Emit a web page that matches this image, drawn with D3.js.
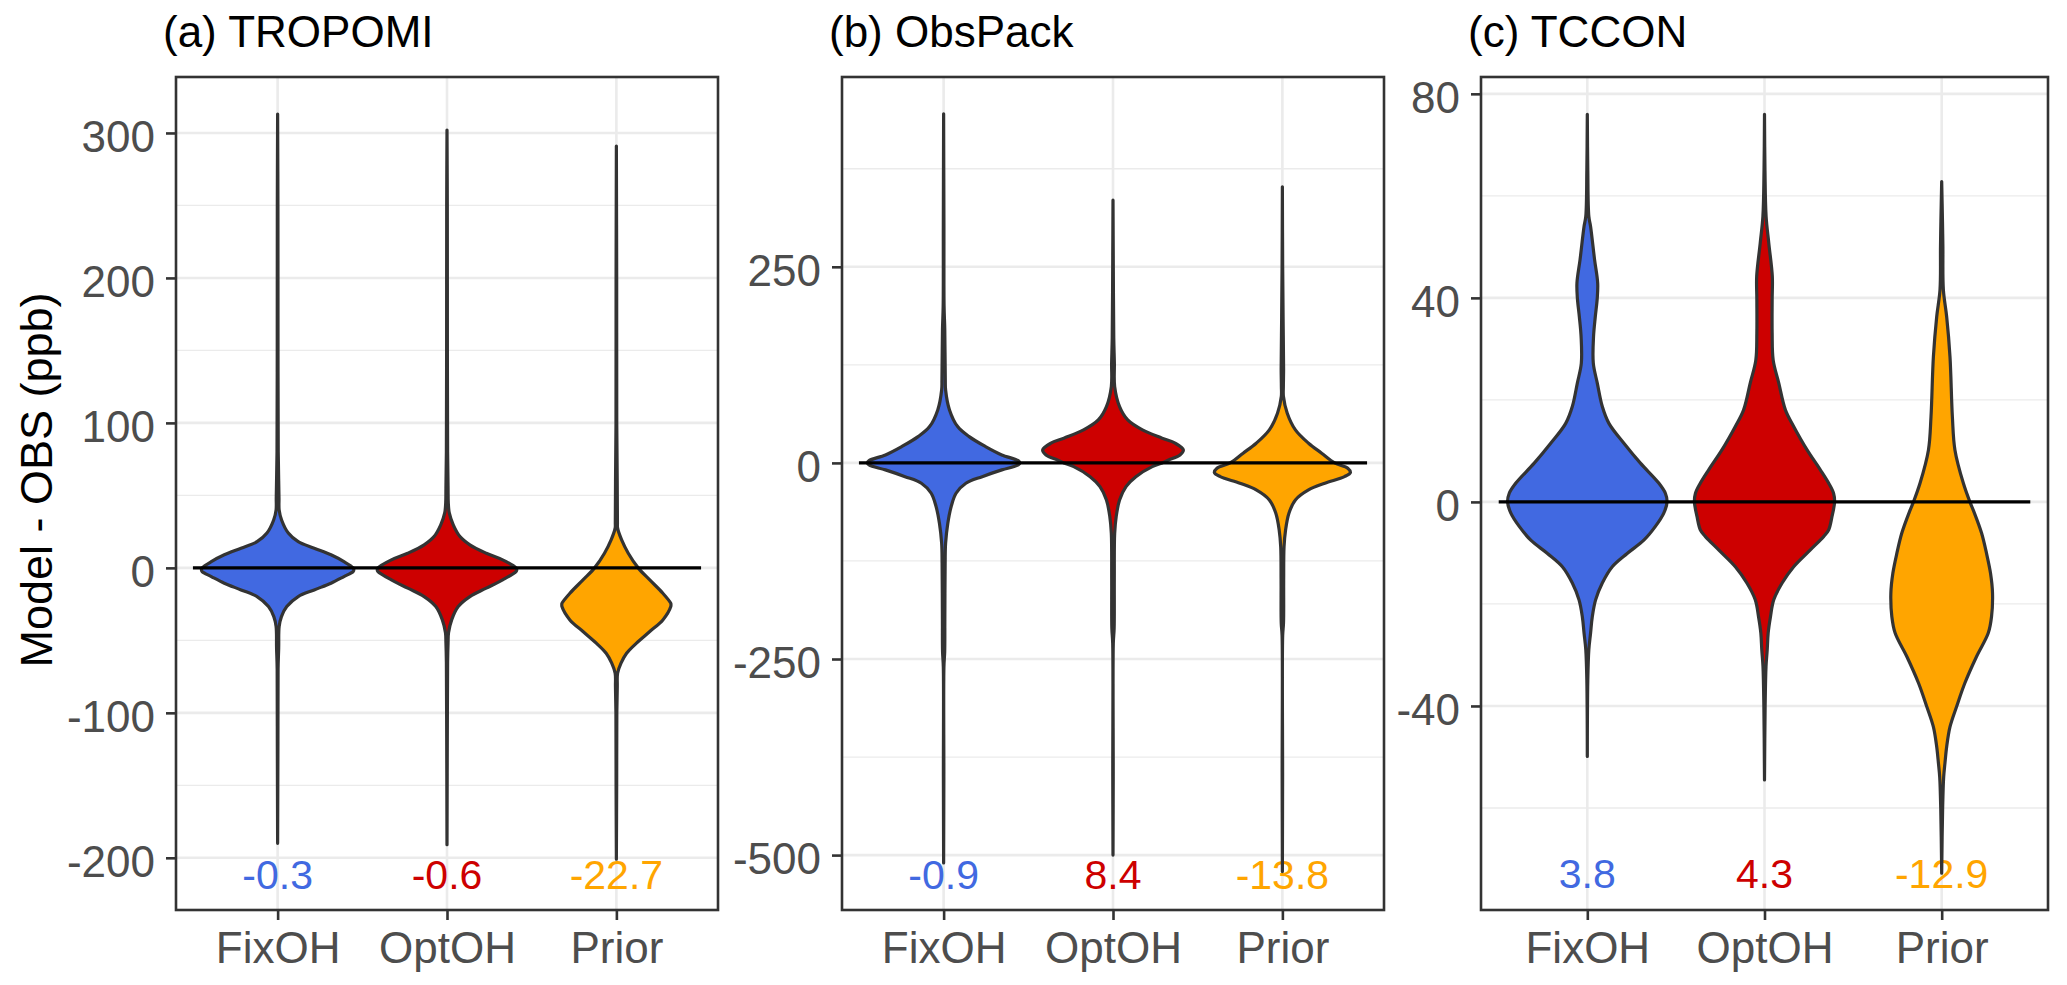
<!DOCTYPE html>
<html>
<head>
<meta charset="utf-8">
<script src="https://cdn.jsdelivr.net/npm/d3@7"></script>
<style>
  body { margin: 0; background: #fff; }
  svg { display: block; }
  text { font-family: "Liberation Sans", Arial, sans-serif; }
</style>
</head>
<body>
<div id="chart"></div>
<script>
// categories and colours
var categories = ["FixOH", "OptOH", "Prior"];
var fills = ["#4169E1", "#CD0000", "#FFA500"];
var panelTitles = ["(a) TROPOMI", "(b) ObsPack", "(c) TCCON"];

// mean bias labels
var tropomiMeans = ["-0.3", "-0.6", "-22.7"];
var obspackMeans = ["-0.9", "8.4", "-13.8"];
var tcconMeans = ["3.8", "4.3", "-12.9"];

// y ticks
var tropomiTicks = [-200, -100, 0, 100, 200, 300];
var tropomiMinor = [-150, -50, 50, 150, 250];
var obspackTicks = [-500, -250, 0, 250];
var obspackMinor = [-375, -125, 125, 375];
var tcconTicks = [-40, 0, 40, 80];
var tcconMinor = [-60, -20, 20, 60];

// violin profiles: [value (ppb), relative density]
var tropomiFixOH = [[313,0],[250,0.004],[150,0.005],[80,0.008],[60,0.014],[48,0.018],[40,0.02],[33,0.052],[24,0.14],[18.1,0.27],[13.6,0.48],[9,0.70],[4.3,0.87],[0,0.99],[-1.3,1.0],[-2.6,0.99],[-6,0.87],[-10.6,0.70],[-15.2,0.48],[-19.8,0.27],[-26.7,0.12],[-33.6,0.05],[-40.5,0.02],[-55,0.014],[-70,0.006],[-120,0.004],[-190,0]];
var tropomiOptOH = [[302,0],[250,0.004],[150,0.005],[80,0.008],[55,0.014],[44.8,0.017],[37.9,0.03],[29.7,0.082],[21.6,0.17],[15.9,0.30],[10.1,0.515],[5.5,0.73],[0,0.905],[-1.5,0.915],[-2.6,0.905],[-8.3,0.73],[-14,0.515],[-19.8,0.30],[-26.7,0.147],[-35.9,0.061],[-44.8,0.02],[-51.7,0.014],[-65,0.008],[-100,0.005],[-191,0]];
var tropomiPrior = [[291,0],[200,0.004],[100,0.005],[60,0.011],[40,0.013],[31,0.014],[27.4,0.016],[19.3,0.069],[10.1,0.156],[0,0.286],[-8.3,0.438],[-17.5,0.61],[-24.4,0.714],[-25.5,0.716],[-26.7,0.714],[-35.9,0.61],[-43.9,0.438],[-51.9,0.264],[-58.9,0.134],[-65.7,0.061],[-72.6,0.016],[-81.8,0.012],[-100,0.006],[-150,0.004],[-201,0]];

var obspackFixOH = [[445,0],[300,0.004],[200,0.006],[170,0.015],[106,0.022],[93,0.026],[67.6,0.077],[46.3,0.184],[33.5,0.335],[20.8,0.55],[10.2,0.763],[2.9,0.978],[0,1.0],[-2.6,0.978],[-8.9,0.763],[-17.5,0.506],[-25.9,0.292],[-38.7,0.163],[-55.7,0.099],[-76.9,0.055],[-102.4,0.026],[-128,0.02],[-200,0.016],[-241,0.014],[-260,0.004],[-400,0.003],[-510,0]];
var obspackOptOH = [[335,0],[250,0.004],[160,0.01],[127,0.018],[97.3,0.022],[71.8,0.086],[54.8,0.193],[42.1,0.386],[31.5,0.644],[25.1,0.815],[16.6,0.923],[10.2,0.879],[3.8,0.73],[0,0.644],[-4.7,0.515],[-17.5,0.30],[-30.2,0.171],[-47.2,0.086],[-68.5,0.042],[-89.7,0.022],[-150,0.017],[-211,0.015],[-230,0.004],[-400,0.003],[-500,0]];
var obspackPrior = [[352,0],[250,0.004],[180,0.01],[120,0.016],[97.3,0.013],[84.6,0.014],[63.4,0.064],[42.1,0.171],[25.1,0.343],[12.4,0.515],[0,0.686],[-6.8,0.858],[-12.4,0.892],[-17.5,0.815],[-25.9,0.557],[-34.4,0.343],[-47.2,0.171],[-64.2,0.086],[-85.5,0.042],[-106.8,0.022],[-150,0.017],[-204,0.015],[-220,0.004],[-400,0.003],[-521,0]];

var tcconFixOH = [[76,0],[65,0.006],[56,0.019],[54,0.041],[47.5,0.091],[42.9,0.13],[40,0.125],[36.3,0.1],[32.4,0.078],[27.2,0.075],[23.3,0.125],[18.7,0.188],[15.4,0.271],[11.5,0.459],[7.6,0.666],[3.7,0.896],[1.7,0.979],[0,1.0],[-2.2,0.959],[-4.8,0.854],[-7.5,0.709],[-10.1,0.5],[-12.7,0.313],[-15.9,0.188],[-19.2,0.104],[-22.5,0.0625],[-25.7,0.041],[-29,0.019],[-35,0.006],[-49.9,0]];
var tcconOptOH = [[76,0],[65,0.006],[56,0.02],[50.7,0.054],[44.2,0.098],[39.6,0.096],[33.1,0.096],[27.8,0.109],[23.3,0.179],[18,0.263],[14.8,0.366],[10.2,0.534],[6.3,0.7],[3.7,0.804],[1.7,0.866],[0,0.879],[-2.9,0.846],[-5.5,0.804],[-6.8,0.741],[-9.4,0.575],[-12.7,0.366],[-15.9,0.221],[-19.2,0.116],[-22.5,0.075],[-25.7,0.046],[-29,0.034],[-32.3,0.019],[-40,0.008],[-54.5,0]];
var tcconPrior = [[62.8,0],[55,0.01],[50,0.015],[41.6,0.021],[36.3,0.0625],[28.5,0.104],[16.7,0.134],[10.2,0.166],[3.7,0.271],[0,0.354],[-1.6,0.396],[-6.1,0.5],[-10.1,0.5625],[-14,0.6125],[-17.9,0.6375],[-22.5,0.625],[-25.7,0.584],[-30.3,0.4375],[-35.5,0.291],[-40.1,0.1875],[-44.1,0.104],[-48,0.0625],[-51.2,0.041],[-53.9,0.025],[-60,0.012],[-72.8,0]];

var width = 2067,
    height = 985;
var panelTop = 77,
    panelBottom = 910;

var panels = [
  { title: panelTitles[0], left: 176, right: 718, domain: [-236, 338.6], labelY: -211,
    ticks: tropomiTicks, minor: tropomiMinor, means: tropomiMeans,
    violins: [tropomiFixOH, tropomiOptOH, tropomiPrior] },
  { title: panelTitles[1], left: 842, right: 1384, domain: [-570, 492], labelY: -524,
    ticks: obspackTicks, minor: obspackMinor, means: obspackMeans,
    violins: [obspackFixOH, obspackOptOH, obspackPrior] },
  { title: panelTitles[2], left: 1481, right: 2048, domain: [-80, 83.3], labelY: -72.7,
    ticks: tcconTicks, minor: tcconMinor, means: tcconMeans,
    violins: [tcconFixOH, tcconOptOH, tcconPrior] }
];

var svg = d3.select("#chart")
  .append("svg")
  .attr("width", width)
  .attr("height", height);

svg.append("rect").attr("width", width).attr("height", height).attr("fill", "#fff");

panels.forEach(function(p) {
  var x = d3.scalePoint().domain(categories).range([p.left, p.right]).padding(0.6);
  var y = d3.scaleLinear().domain(p.domain).range([panelBottom, panelTop]);
  var step = x.step();
  var g = svg.append("g");

  // grid
  g.selectAll(".minor").data(p.minor).enter().append("line")
    .attr("x1", p.left).attr("x2", p.right)
    .attr("y1", function(d) { return y(d); }).attr("y2", function(d) { return y(d); })
    .attr("stroke", "#EBEBEB").attr("stroke-width", 1.3);
  g.selectAll(".major").data(p.ticks).enter().append("line")
    .attr("x1", p.left).attr("x2", p.right)
    .attr("y1", function(d) { return y(d); }).attr("y2", function(d) { return y(d); })
    .attr("stroke", "#EBEBEB").attr("stroke-width", 2.6);
  g.selectAll(".vgrid").data(categories).enter().append("line")
    .attr("x1", function(d) { return x(d); }).attr("x2", function(d) { return x(d); })
    .attr("y1", panelTop).attr("y2", panelBottom)
    .attr("stroke", "#EBEBEB").attr("stroke-width", 2.6);

  // mean labels
  g.selectAll(".mean").data(p.means).enter().append("text")
    .attr("x", function(d, i) { return x(categories[i]); })
    .attr("y", y(p.labelY))
    .attr("dy", "0.36em")
    .attr("text-anchor", "middle")
    .attr("font-size", 41)
    .attr("fill", function(d, i) { return fills[i]; })
    .text(function(d) { return d; });

  // violins
  p.violins.forEach(function(v, i) {
    var cx = x(categories[i]);
    var area = d3.area()
      .curve(d3.curveCatmullRom.alpha(0.5))
      .y(function(d) { return y(d[0]); })
      .x0(function(d) { return cx - d[1] * 0.45 * step; })
      .x1(function(d) { return cx + d[1] * 0.45 * step; });
    g.append("path").datum(v)
      .attr("d", area)
      .attr("fill", fills[i])
      .attr("stroke", "#333333")
      .attr("stroke-width", 3.2)
      .attr("stroke-linejoin", "round");
  });

  // zero line
  g.append("line")
    .attr("x1", x(categories[0]) - step / 2)
    .attr("x2", x(categories[2]) + step / 2)
    .attr("y1", y(0)).attr("y2", y(0))
    .attr("stroke", "#000").attr("stroke-width", 3.4);

  // border
  g.append("rect")
    .attr("x", p.left).attr("y", panelTop)
    .attr("width", p.right - p.left).attr("height", panelBottom - panelTop)
    .attr("fill", "none").attr("stroke", "#333333").attr("stroke-width", 2.6);

  // axes
  var yAxis = g.append("g")
    .attr("transform", "translate(" + p.left + ",0)")
    .call(d3.axisLeft(y).tickValues(p.ticks).tickSize(10).tickPadding(11)
      .tickFormat(function(d) { return String(d); }));
  var xAxis = g.append("g")
    .attr("transform", "translate(0," + panelBottom + ")")
    .call(d3.axisBottom(x).tickSize(10).tickPadding(12));
  [yAxis, xAxis].forEach(function(ax) {
    ax.select(".domain").remove();
    ax.selectAll(".tick line").attr("stroke", "#333333").attr("stroke-width", 2.6);
    ax.selectAll(".tick text")
      .attr("font-size", 44)
      .attr("fill", "#4D4D4D")
      .style("font-family", '"Liberation Sans", Arial, sans-serif');
  });
  yAxis.selectAll(".tick text").attr("dy", "0.42em");

  // title
  svg.append("text")
    .attr("x", p.left - 13)
    .attr("y", 47)
    .attr("font-size", 44)
    .attr("fill", "#000")
    .text(p.title);
});

svg.append("text")
  .attr("transform", "translate(52,480) rotate(-90)")
  .attr("text-anchor", "middle")
  .attr("font-size", 45)
  .attr("fill", "#000")
  .text("Model - OBS (ppb)");
</script>
</body>
</html>
